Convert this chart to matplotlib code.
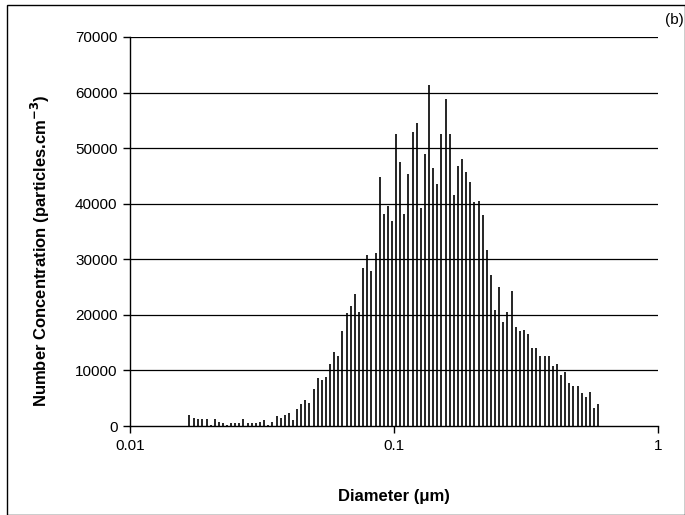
import matplotlib
matplotlib.use("Agg")
import matplotlib.pyplot as plt
from matplotlib.patches import Rectangle

plt.rcParams['font.family'] = ['Liberation Sans', 'DejaVu Sans']

# Diameter channels (nm)
diameter_nm = [
    16.8, 17.5, 18.1, 18.8, 19.5, 20.2, 20.9, 21.7, 22.5, 23.3,
    24.1, 25.0, 25.9, 26.9, 27.9, 28.9, 30.0, 31.1, 32.2, 33.4,
    34.6, 35.9, 37.2, 38.5, 40.0, 41.4, 42.9, 44.5, 46.1, 47.8,
    49.6, 51.4, 53.3, 55.2, 57.3, 59.4, 61.5, 63.8, 66.1, 68.5,
    71.0, 73.7, 76.4, 79.1, 82.0, 85.1, 88.2, 91.4, 94.7, 98.2,
    101.8, 105.5, 109.4, 113.4, 117.6, 121.9, 126.3, 131.0, 135.8, 140.7,
    145.9, 151.2, 156.8, 162.5, 168.5, 174.7, 181.1, 187.7, 194.6, 201.7,
    209.1, 216.7, 224.7, 232.9, 241.4, 250.3, 259.5, 269.0, 278.8, 289.0,
    299.6, 310.6, 322.0, 333.8, 346.0, 358.7, 371.8, 385.4, 399.5, 414.2,
    429.4, 445.1, 461.4, 478.3, 495.8, 514.0, 532.8, 552.3, 572.5, 593.5,
]

concentration = [
    1980, 1500, 1260, 1260, 1260, 200, 1260, 780, 480, 240,
    480, 480, 480, 1260, 480, 480, 480, 780, 1020, 240,
    780, 1740, 1500, 1980, 2280, 1020, 3000, 3960, 4680, 4200,
    6700, 8630, 8200, 8900, 11150, 13370, 12600, 17090, 20270, 21580,
    23740, 20500, 28470, 30700, 27930, 31170, 44730, 38070, 39570, 36870,
    52460, 47450, 38070, 45270, 52950, 54440, 39300, 48920, 61330, 46500,
    43520, 52460, 58870, 52460, 41550, 46760, 48020, 45740, 43940, 40350,
    40530, 37890, 31600, 27160, 20800, 24940, 18760, 20530, 24250, 17800,
    17060, 17330, 16600, 14090, 14090, 12590, 12590, 12590, 10850, 11090,
    9170, 9650, 7670, 7130, 7130, 5870, 5220, 6180, 3180, 3900,
]

yticks = [0, 10000, 20000, 30000, 40000, 50000, 60000, 70000]
xticks = [0.01, 0.1, 1]
xticklabels = ["0.01", "0.1", "1"]

diameter_um = [d / 1000.0 for d in diameter_nm]

W, H = 685, 515
fig = plt.figure(figsize=(W / 100, H / 100), dpi=100)

# outer frame
fig.patches.append(Rectangle((6.5 / W, 0.5 / H), (684.5 - 6.5) / W, (510 - 0.5) / H,
                             transform=fig.transFigure, fill=False,
                             edgecolor='black', linewidth=1.0))

ax = fig.add_axes([130 / W, (H - 426) / H, 528 / W, 389 / H])
ax.set_xscale('log')
ax.set_xlim(0.01, 1)
ax.set_ylim(0, 70000)

for y in yticks[1:]:
    ax.axhline(y, color='black', linewidth=0.9, zorder=1)

ax.vlines(diameter_um, 0, concentration, colors='black', linewidth=1.2, zorder=2)

ax.spines['top'].set_visible(False)
ax.spines['right'].set_visible(False)
ax.spines['left'].set_linewidth(1.0)
ax.spines['bottom'].set_linewidth(1.0)

ax.set_yticks(yticks)
ax.set_yticklabels([str(v) for v in yticks], fontsize=11)
ax.set_xticks(xticks)
ax.set_xticklabels(xticklabels, fontsize=11)
ax.xaxis.set_minor_locator(matplotlib.ticker.NullLocator())
ax.tick_params(axis='both', direction='out', length=5, width=1, pad=4)

ax.set_xlabel('Diameter (\u03bcm)', fontsize=12, fontweight='bold', labelpad=26)
ax.set_ylabel('Number Concentration (particles.cm$^{\\mathbf{-3}}$)', fontsize=12,
              fontweight='bold')
ax.yaxis.set_label_coords(-0.148, 0.45)

fig.text(665 / W, 1 - 20 / H, '(b)', fontsize=11, ha='left', va='center')

fig.savefig('out.png', dpi=100)
